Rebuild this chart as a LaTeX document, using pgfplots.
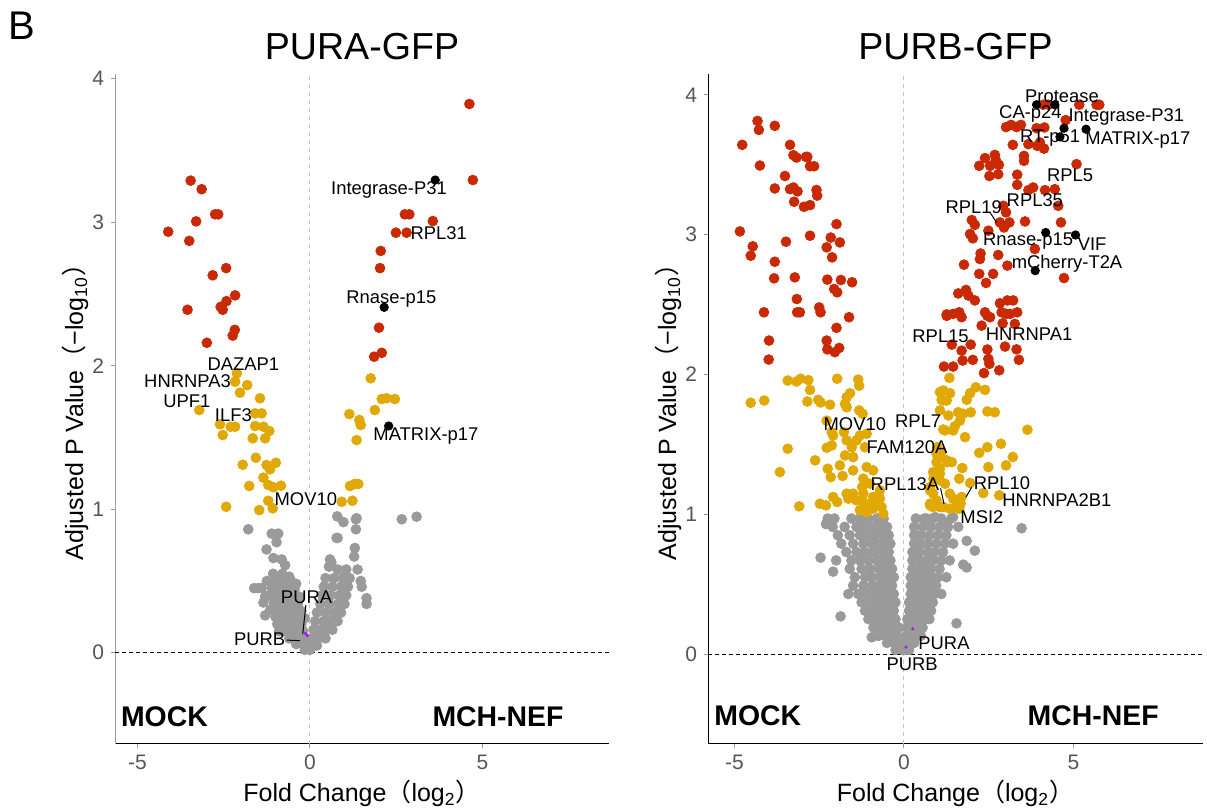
\documentclass[border=0pt]{standalone}
\usepackage{fontspec}
\setmainfont{Liberation Sans}
\newfontfamily\cjk{Noto Sans CJK SC}
\usepackage{pgfplots}
\pgfplotsset{compat=1.18}
\definecolor{cred}{HTML}{C92A05}
\definecolor{cyel}{HTML}{E1A905}
\definecolor{cgry}{HTML}{9A9A9A}
\definecolor{cpur}{HTML}{A020F0}
\definecolor{ticktxt}{HTML}{555555}
\tikzset{
  lab/.style={font=\fontsize{9.2}{10}\selectfont, inner sep=0pt},
  grp/.style={font=\fontsize{14.2}{16}\selectfont\bfseries, inner sep=0pt, anchor=base},
}
\pgfplotsset{
  vol/.style={
    scale only axis, anchor=south west, clip=false,
    axis lines*=left, axis line style={-},
    xtick={-5,0,5}, xticklabels={-5,0,5},
    ytick={0,1,2,3,4}, yticklabels={0,1,2,3,4},
    tick align=outside, major tick length=2pt,
    tick style={color=gray!80, line width=0.5pt},
    tick label style={font=\fontsize{10.5}{12}\selectfont, text=ticktxt},
    x axis line style={black, line width=0.5pt},
  },
  ovl/.style={scale only axis, anchor=south west, clip=false, hide axis},
  gr/.style={only marks, mark=*, mark size=2.45pt, color=cgry},
  ye/.style={only marks, mark=*, mark size=2.45pt, color=cyel},
  re/.style={only marks, mark=*, mark size=2.45pt, color=cred},
  bl/.style={only marks, mark=*, mark size=2.1pt, color=black},
  pu/.style={only marks, mark=*, mark size=0.6pt, color=cpur},
}
\begin{document}
\begin{tikzpicture}
\path[use as bounding box] (0,0) rectangle (603.5pt,406pt);
% ---------------- LEFT PANEL ----------------
\begin{axis}[vol, at={(57.5pt,34pt)}, width=247pt, height=335pt,
  xmin=-5.652, xmax=8.667, ymin=-0.636, ymax=4.033,
  y axis line style={color=gray!75, line width=0.5pt}]
\addplot[color=gray!45, line width=0.5pt, dash pattern=on 2pt off 2pt] coordinates {(0,-0.636) (0,4.033)};
\addplot[color=black, line width=0.5pt, dash pattern=on 2pt off 1.5pt] coordinates {(-5.652,0) (8.667,0)};
\addplot[gr] coordinates {
(-1.79,0.86) (-1.11,0.83) (-0.92,0.83) (-0.97,0.77) (-1.26,0.72) (-1.06,0.66) (-0.82,0.65) (-0.72,0.61) (-0.92,0.52) (-1.5,0.45) (-1.3,0.39) (-1.62,0.45)
(-1.07,0.55) (-0.8,0.55) (-0.6,0.53)
(-1.25,0.50) (-1.0,0.50) (-0.8,0.49) (-0.55,0.50) (-0.4,0.48)
(-1.4,0.45) (-1.1,0.45) (-0.9,0.44) (-0.65,0.45) (-0.45,0.44)
(-1.2,0.40) (-1.0,0.40) (-0.75,0.40) (-0.5,0.40) (-0.3,0.39)
(-1.35,0.35) (-1.05,0.35) (-0.85,0.35) (-0.6,0.35) (-0.35,0.34)
(-1.15,0.30) (-0.9,0.30) (-0.7,0.30) (-0.45,0.30) (-0.25,0.29)
(-1.3,0.26) (-1.0,0.25) (-0.8,0.25) (-0.55,0.25) (-0.35,0.25) (-0.15,0.24)
(-0.95,0.20) (-0.7,0.20) (-0.45,0.20) (-0.25,0.20)
(-0.9,0.15) (-0.75,0.15) (-0.55,0.15) (-0.35,0.15) (-0.2,0.15)
(-0.6,0.10) (-0.4,0.10) (-0.25,0.10) (-0.1,0.10)
(-0.4,0.06) (-0.2,0.06) (-0.05,0.06)
(-0.15,0.02) (0.0,0.02)
(0.79,0.95) (0.97,0.91) (1.33,0.93) (1.35,0.937) (1.33,0.86) (0.80,0.80) (1.30,0.73) (1.28,0.67) (0.58,0.65) (1.38,0.58) (1.47,0.50) (1.50,0.46) (1.64,0.38) (1.64,0.34) (2.66,0.93) (3.09,0.948) (0.77,0.80)
(0.55,0.60) (0.8,0.58) (1.05,0.58) (0.62,0.63)
(0.45,0.52) (0.7,0.52) (0.95,0.52) (1.15,0.52)
(0.4,0.46) (0.65,0.46) (0.9,0.46) (1.1,0.46)
(0.35,0.40) (0.6,0.40) (0.85,0.40) (1.05,0.40)
(0.3,0.34) (0.55,0.34) (0.8,0.34) (1.0,0.34)
(0.2,0.28) (0.45,0.28) (0.7,0.28) (0.9,0.28)
(0.15,0.22) (0.4,0.22) (0.6,0.22) (0.8,0.22)
(0.1,0.16) (0.3,0.16) (0.5,0.16) (0.65,0.16)
(0.05,0.10) (0.25,0.10) (0.45,0.10)
(0.02,0.05) (0.2,0.05)
};
\addplot[ye] coordinates {
(-2.12,1.947) (-2.17,1.889) (-1.82,1.865) (-2.03,1.812) (-1.45,1.773) (-3.21,1.691) (-1.59,1.668) (-1.40,1.668) (-2.61,1.592) (-2.30,1.575) (-2.17,1.575) (-1.59,1.58) (-1.35,1.575) (-1.18,1.545) (-2.53,1.517) (-1.66,1.494) (-1.30,1.494) (-1.57,1.359) (-1.95,1.31) (-1.26,1.308) (-0.99,1.324) (-1.16,1.278) (-1.35,1.22) (-1.76,1.162) (-1.21,1.169) (-1.06,1.153) (-0.84,1.164) (-2.43,1.017) (-1.47,0.994) (-1.21,1.059) (-1.08,1.006)
(1.76,1.912) (2.08,1.768) (2.22,1.773) (2.46,1.768) (1.14,1.663) (1.88,1.691) (1.43,1.622) (1.47,1.587) (1.35,1.482) (1.16,1.162) (1.30,1.176) (1.40,1.176) (0.92,1.052) (1.23,1.059)
};
\addplot[re] coordinates {
(-3.46,3.29) (-3.14,3.23) (-2.75,3.055) (-2.66,3.055) (-3.30,3.006) (-4.11,2.934) (-3.50,2.87) (-2.43,2.68) (-2.82,2.63) (-2.17,2.49) (-2.42,2.45) (-2.59,2.41) (-2.53,2.39) (-3.55,2.39) (-2.18,2.25) (-2.24,2.21) (-2.99,2.16)
(4.62,3.824) (4.72,3.294) (2.75,3.055) (2.88,3.055) (3.56,3.008) (2.49,2.927) (2.80,2.927) (2.05,2.80) (2.03,2.68) (2.0,2.265) (2.08,2.09) (1.86,2.063)
};
\end{axis}
\begin{axis}[ovl, at={(57.5pt,34pt)}, width=247pt, height=335pt,
  xmin=-5.652, xmax=8.667, ymin=-0.636, ymax=4.033]
\draw[line width=0.5pt] (axis cs:-0.12,0.332) -- (axis cs:-0.21,0.13);
\draw[line width=0.5pt] (axis cs:-0.675,0.088) -- (axis cs:-0.29,0.084);
\node[lab] at (axis cs:2.29,3.223) {Integrase-P31};
\node[lab] at (axis cs:3.73,2.927) {RPL31};
\node[lab] at (axis cs:2.36,2.465) {Rnase-p15};
\node[lab] at (axis cs:3.36,1.511) {MATRIX-p17};
\node[lab] at (axis cs:-1.93,2.01) {DAZAP1};
\node[lab] at (axis cs:-3.55,1.889) {HNRNPA3};
\node[lab] at (axis cs:-3.57,1.749) {UPF1};
\node[lab] at (axis cs:-2.22,1.656) {ILF3};
\node[lab] at (axis cs:-0.12,1.071) {MOV10};
\node[lab] at (axis cs:-0.10,0.385) {PURA};
\node[lab] at (axis cs:-1.46,0.095) {PURB};
\node[grp] at (axis cs:-4.22,-0.511) {MOCK};
\node[grp] at (axis cs:5.45,-0.511) {MCH-NEF};
\addplot[bl] coordinates {(3.63,3.294) (2.15,2.407) (2.28,1.58)};
\addplot[pu] coordinates {(-0.14,0.135) (-0.08,0.12)};
\end{axis}
% ---------------- RIGHT PANEL ----------------
\begin{axis}[vol, at={(354pt,34pt)}, width=247.5pt, height=335pt,
  xmin=-5.78, xmax=8.82, ymin=-0.643, ymax=4.15,
  y axis line style={color=black, line width=0.5pt}]
\addplot[color=gray!45, line width=0.5pt, dash pattern=on 2pt off 2pt] coordinates {(0,-0.643) (0,4.15)};
\addplot[color=black, line width=0.5pt, dash pattern=on 2pt off 1.5pt] coordinates {(-5.78,0) (8.82,0)};
\addplot[gr] coordinates {
(-2.46,0.69) (-2.09,0.59) (-1.87,0.27) (-1.64,0.43) (-0.95,0.12) (-2.3,0.93)
(-2.25,0.97) (-2.05,0.97) (-1.55,0.97) (-1.3,0.97) (-1.05,0.97) (-0.8,0.97) (-0.6,0.97)
(-2.1,0.91) (-1.75,0.91) (-1.4,0.91) (-1.15,0.91) (-0.9,0.91) (-0.7,0.91) (-0.5,0.91)
(-1.95,0.85) (-1.6,0.85) (-1.3,0.85) (-1.05,0.85) (-0.85,0.85) (-0.6,0.85) (-0.45,0.85)
(-1.85,0.79) (-1.5,0.79) (-1.2,0.79) (-0.95,0.79) (-0.75,0.79) (-0.55,0.79) (-0.4,0.79)
(-1.7,0.73) (-1.4,0.73) (-1.15,0.73) (-0.9,0.73) (-0.65,0.73) (-0.45,0.73)
(-2.0,0.67) (-1.55,0.67) (-1.3,0.67) (-1.05,0.67) (-0.8,0.67) (-0.6,0.67) (-0.4,0.67)
(-1.6,0.61) (-1.25,0.61) (-1.0,0.61) (-0.75,0.61) (-0.55,0.61) (-0.35,0.61)
(-1.45,0.55) (-1.15,0.55) (-0.95,0.55) (-0.7,0.55) (-0.5,0.55) (-0.3,0.55)
(-1.5,0.49) (-1.2,0.49) (-0.95,0.49) (-0.75,0.49) (-0.55,0.49) (-0.35,0.49)
(-1.35,0.43) (-1.1,0.43) (-0.85,0.43) (-0.65,0.43) (-0.45,0.43) (-0.3,0.43)
(-1.25,0.37) (-1.0,0.37) (-0.8,0.37) (-0.6,0.37) (-0.4,0.37) (-0.25,0.37)
(-1.15,0.31) (-0.9,0.31) (-0.7,0.31) (-0.5,0.31) (-0.3,0.31)
(-1.05,0.25) (-0.85,0.25) (-0.65,0.25) (-0.45,0.25) (-0.25,0.25)
(-0.9,0.19) (-0.7,0.19) (-0.5,0.19) (-0.3,0.19) (-0.15,0.19)
(-0.75,0.13) (-0.55,0.13) (-0.35,0.13) (-0.2,0.13)
(-0.5,0.08) (-0.3,0.08) (-0.15,0.08)
(-0.25,0.03) (-0.05,0.03)
(3.47,0.90) (1.55,0.22) (1.75,0.64) (1.85,0.62) (2.09,0.74) (1.85,0.81)
(0.67,0.97) (0.92,0.98) (1.26,0.94) (1.45,0.98)
(0.35,0.97) (0.6,0.97) (0.85,0.97) (1.1,0.97) (1.4,0.97)
(0.3,0.91) (0.55,0.91) (0.8,0.91) (1.05,0.91) (1.3,0.91) (1.6,0.91)
(0.3,0.85) (0.5,0.85) (0.75,0.85) (1.0,0.85) (1.25,0.85)
(0.3,0.79) (0.5,0.79) (0.7,0.79) (0.95,0.79) (1.2,0.79) (1.45,0.79)
(0.25,0.73) (0.45,0.73) (0.7,0.73) (0.9,0.73) (1.15,0.73)
(0.25,0.67) (0.45,0.67) (0.65,0.67) (0.85,0.67) (1.1,0.67) (1.35,0.67)
(0.25,0.61) (0.45,0.61) (0.6,0.61) (0.8,0.61) (1.05,0.61)
(0.2,0.55) (0.4,0.55) (0.6,0.55) (0.8,0.55) (1.0,0.55) (1.25,0.55)
(0.2,0.49) (0.4,0.49) (0.55,0.49) (0.75,0.49) (0.95,0.49)
(0.2,0.43) (0.35,0.43) (0.55,0.43) (0.7,0.43) (0.9,0.43) (1.1,0.43)
(0.15,0.37) (0.35,0.37) (0.5,0.37) (0.7,0.37) (0.85,0.37)
(0.15,0.31) (0.3,0.31) (0.45,0.31) (0.65,0.31) (0.8,0.31)
(0.1,0.25) (0.25,0.25) (0.4,0.25) (0.6,0.25) (0.75,0.25)
(0.1,0.19) (0.25,0.19) (0.4,0.19) (0.55,0.19)
(0.05,0.13) (0.2,0.13) (0.35,0.13) (0.5,0.13)
(0.05,0.08) (0.2,0.08) (0.3,0.08)
(0.05,0.03) (0.15,0.03)
};
\addplot[ye] coordinates {
(-3.43,1.957) (-3.17,1.95) (-3.05,1.97) (-2.82,1.96) (-1.97,1.97) (-1.35,1.964) (-1.32,1.92) (-2.77,1.89) (-1.59,1.866) (-1.69,1.838) (-4.52,1.798) (-4.12,1.814) (-2.85,1.807) (-2.53,1.819) (-2.46,1.8) (-2.18,1.784) (-1.74,1.79) (-1.69,1.766) (-1.32,1.743) (-1.22,1.719) (-2.28,1.67) (-2.13,1.588) (-2.09,1.564) (-1.77,1.588) (-1.69,1.529) (-1.40,1.529) (-1.30,1.564) (-1.10,1.576) (-1.15,1.48) (-2.28,1.476) (-2.13,1.493) (-3.43,1.469) (-1.54,1.48) (-2.62,1.386) (-1.74,1.421) (-1.50,1.409) (-1.89,1.35) (-2.25,1.326) (-3.66,1.302) (-1.50,1.314) (-1.10,1.338) (-0.91,1.314) (-2.16,1.266) (-1.81,1.274) (-1.20,1.255) (-1.00,1.219) (-1.23,1.195) (-1.69,1.148) (-1.50,1.148) (-1.64,1.112) (-1.40,1.1) (-2.09,1.124) (-1.97,1.088) (-2.48,1.076) (-2.30,1.064) (-3.09,1.057) (-1.20,1.088) (-1.05,1.07) (-0.91,1.124) (-0.71,1.112) (-0.81,1.064) (-0.66,1.052) (-0.71,1.171) (-1.20,1.148) (-0.91,1.04) (-1.30,1.03) (-1.10,1.016) (-0.61,1.005)
(1.06,1.874) (1.16,1.814) (1.06,1.743) (1.21,1.6) (0.98,1.48) (1.01,1.41) (1.26,1.373) (1.06,1.326) (0.87,1.255) (1.06,1.243) (0.77,1.171) (0.77,1.076) (0.96,1.1) (1.06,1.052)
(1.34,1.976) (1.16,1.886) (1.36,1.866) (1.11,1.819) (1.26,1.814) (1.95,1.866) (2.12,1.909) (2.39,1.89) (1.85,1.819) (1.31,1.707) (1.60,1.73) (1.75,1.719) (1.97,1.73) (1.65,1.67) (2.46,1.736) (2.68,1.73) (1.16,1.607) (1.45,1.6) (1.50,1.63) (3.64,1.605) (1.80,1.552) (2.22,1.44) (2.46,1.48) (2.86,1.505) (3.21,1.41) (3.01,1.35) (0.96,1.434) (1.11,1.445) (1.26,1.386) (0.96,1.373) (1.41,1.373) (1.72,1.331) (2.49,1.338) (0.86,1.302) (1.06,1.29) (1.63,1.255) (1.21,1.219) (1.95,1.224) (0.77,1.195) (0.86,1.148) (1.35,1.148) (1.45,1.112) (2.34,1.152) (2.81,1.136) (1.70,1.124) (1.67,1.076) (0.77,1.064) (0.86,1.052) (1.16,1.052) (1.36,1.04) (1.55,1.052) (1.63,1.04)
};
\addplot[re] coordinates {
(-4.32,3.814) (-4.28,3.75) (-3.81,3.779) (-4.77,3.643) (-3.36,3.643) (-3.26,3.569) (-3.17,3.552) (-2.89,3.557) (-2.85,3.557) (-2.77,3.49) (-2.65,3.49) (-4.25,3.495) (-3.51,3.42) (-3.81,3.331) (-3.36,3.326) (-3.26,3.338) (-3.14,3.31) (-2.58,3.32) (-2.56,3.28) (-3.24,3.236) (-2.95,3.2) (-2.77,3.212) (-4.84,3.024) (-3.48,2.95) (-2.77,2.993) (-1.99,3.076) (-2.16,2.98) (-1.89,2.945) (-4.46,2.917) (-2.28,2.91) (-4.52,2.85) (-2.12,2.838) (-3.81,2.807) (-3.83,2.688) (-3.22,2.695) (-2.26,2.679) (-1.86,2.676) (-1.53,2.66) (-2.06,2.612) (-1.97,2.588) (-3.16,2.54) (-4.13,2.445) (-3.15,2.445) (-3.07,2.445) (-2.50,2.48) (-2.46,2.445) (-1.62,2.41) (-1.99,2.334) (-3.98,2.243) (-2.28,2.243) (-2.26,2.18) (-2.04,2.16) (-1.91,2.19) (-3.99,2.107)
(4.11,3.93) (4.26,3.93) (5.17,3.93) (5.68,3.93) (5.76,3.93) (4.77,3.82) (3.01,3.77) (3.16,3.786) (3.32,3.77) (3.45,3.786) (3.91,3.762) (4.14,3.767) (4.01,3.66) (3.67,3.648) (3.93,3.636) (4.13,3.616) (3.21,3.643) (2.39,3.548) (2.68,3.571) (2.71,3.533) (2.22,3.493) (2.54,3.493) (2.80,3.5) (2.52,3.42) (2.78,3.433) (3.54,3.564) (3.54,3.529) (5.09,3.505) (3.34,3.43) (3.34,3.357) (3.67,3.319) (3.81,3.338) (4.16,3.319) (4.45,3.326) (4.55,3.207) (2.93,3.207) (3.01,3.16) (3.57,3.095) (4.63,3.088) (2.0,3.105) (2.09,3.071) (2.83,3.088) (3.11,3.088) (2.95,3.052) (1.95,3.005) (2.03,2.974) (2.49,3.029) (2.26,2.866) (2.78,2.855) (3.86,2.898) (2.24,2.826) (1.77,2.786) (3.05,2.779) (4.72,2.69) (2.22,2.72) (2.63,2.72) (2.42,2.655) (1.60,2.58) (1.83,2.605) (1.90,2.565) (2.09,2.53) (2.83,2.51) (3.05,2.53) (3.22,2.53) (1.26,2.43) (1.45,2.434) (1.63,2.445) (1.70,2.41) (2.39,2.445) (2.46,2.42) (2.54,2.41) (2.88,2.445) (3.01,2.434) (3.13,2.434) (3.34,2.445) (2.29,2.35) (2.91,2.366) (3.27,2.362) (1.41,2.214) (1.97,2.214) (1.70,2.171) (1.73,2.1) (2.03,2.105) (2.46,2.179) (2.49,2.112) (2.52,2.076) (2.98,2.2) (3.32,2.18) (3.39,2.105) (1.18,2.057) (2.36,2.01) (2.81,2.03) (1.26,2.42) (1.45,2.057)
};
\end{axis}
\begin{axis}[ovl, at={(354pt,34pt)}, width=247.5pt, height=335pt,
  xmin=-5.78, xmax=8.82, ymin=-0.643, ymax=4.15]
\draw[line width=0.5pt] (axis cs:2.54,3.159) -- (axis cs:2.73,3.088);
\draw[line width=0.5pt] (axis cs:1.08,1.186) -- (axis cs:1.18,1.075);
\draw[line width=0.5pt] (axis cs:1.83,1.124) -- (axis cs:2.0,1.195);
\node[lab] at (axis cs:4.66,3.993) {Protease};
\node[lab] at (axis cs:3.73,3.864) {CA-p24};
\node[lab] at (axis cs:6.56,3.843) {Integrase-P31};
\node[lab] at (axis cs:4.31,3.693) {RT-p51};
\node[lab] at (axis cs:6.90,3.679) {MATRIX-p17};
\node[lab] at (axis cs:4.90,3.429) {RPL5};
\node[lab] at (axis cs:3.86,3.25) {RPL35};
\node[lab] at (axis cs:2.06,3.2) {RPL19};
\node[lab] at (axis cs:3.66,2.957) {Rnase-p15};
\node[lab] at (axis cs:5.55,2.929) {VIF};
\node[lab] at (axis cs:4.81,2.793) {mCherry-T2A};
\node[lab] at (axis cs:3.69,2.286) {HNRNPA1};
\node[lab] at (axis cs:1.08,2.271) {RPL15};
\node[lab] at (axis cs:0.42,1.664) {RPL7};
\node[lab] at (axis cs:-1.45,1.643) {MOV10};
\node[lab] at (axis cs:0.09,1.479) {FAM120A};
\node[lab] at (axis cs:0.03,1.214) {RPL13A};
\node[lab] at (axis cs:2.89,1.221) {RPL10};
\node[lab] at (axis cs:4.51,1.1) {HNRNPA2B1};
\node[lab] at (axis cs:2.30,0.979) {MSI2};
\node[lab] at (axis cs:1.18,0.079) {PURA};
\node[lab] at (axis cs:0.24,-0.071) {PURB};
\node[grp] at (axis cs:-4.31,-0.514) {MOCK};
\node[grp] at (axis cs:5.58,-0.514) {MCH-NEF};
\addplot[bl] coordinates {(3.91,3.93) (4.45,3.93) (4.72,3.762) (4.60,3.70) (5.37,3.755) (4.18,3.016) (5.06,2.998) (3.87,2.743)};
\addplot[pu] coordinates {(0.26,0.18) (0.06,0.05)};
\end{axis}
% ---------------- Titles and axis titles ----------------
\node[font=\fontsize{20}{22}\selectfont, anchor=base, inner sep=0pt] at (11pt,386pt) {B};
\node[font=\fontsize{18.8}{21}\selectfont, anchor=base, inner sep=0pt] at (181pt,376pt) {PURA-GFP};
\node[font=\fontsize{18.8}{21}\selectfont, anchor=base, inner sep=0pt] at (477.75pt,376pt) {PURB-GFP};
\node[font=\fontsize{12.5}{14}\selectfont, anchor=base, inner sep=0pt] at (181pt,5pt) {Fold Change{\cjk （}log\textsubscript{2}{\cjk ）}};
\node[font=\fontsize{12.5}{14}\selectfont, anchor=base, inner sep=0pt] at (477.75pt,5pt) {Fold Change{\cjk （}log\textsubscript{2}{\cjk ）}};
\node[font=\fontsize{12.5}{14}\selectfont, rotate=90, inner sep=0pt] at (37.5pt,203pt) {Adjusted P Value{\cjk （}−log\textsubscript{10}{\cjk ）}};
\node[font=\fontsize{12.5}{14}\selectfont, rotate=90, inner sep=0pt] at (334pt,203pt) {Adjusted P Value{\cjk （}−log\textsubscript{10}{\cjk ）}};
\end{tikzpicture}
\end{document}
